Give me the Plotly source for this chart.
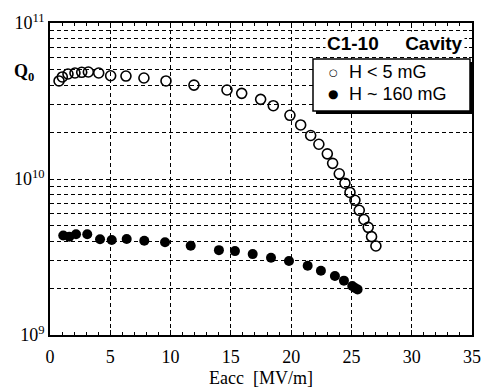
import plotly.graph_objects as go

# H < 5 mG (open circles)
e_low = [0.75, 1.02, 1.49, 2.07, 2.63, 3.18, 4.04, 5.03, 6.30, 7.79, 9.62, 11.94, 14.68,
         15.9, 17.47, 18.52, 19.9, 20.79, 21.62, 22.3, 23.0, 23.44, 23.99, 24.46, 24.88,
         25.29, 25.65, 26.04, 26.39, 26.67, 27.03]
q_low = [4.25e10, 4.51e10, 4.71e10, 4.78e10, 4.83e10, 4.85e10, 4.78e10, 4.59e10, 4.57e10,
         4.44e10, 4.25e10, 4.0e10, 3.72e10, 3.54e10, 3.24e10, 2.95e10, 2.56e10, 2.22e10,
         1.90e10, 1.67e10, 1.45e10, 1.26e10, 1.08e10, 9.4e9, 8.2e9, 7.3e9, 6.3e9, 5.5e9,
         4.9e9, 4.27e9, 3.72e9]

# H ~ 160 mG (filled circles)
e_high = [1.10, 1.60, 2.16, 3.09, 4.15, 5.12, 6.36, 7.82, 9.54, 11.67, 14.01, 15.34, 16.81,
          18.33, 19.82, 21.37, 22.47, 23.63, 24.38, 25.07, 25.3, 25.51]
q_high = [4.34e9, 4.27e9, 4.42e9, 4.42e9, 4.11e9, 4.06e9, 4.12e9, 4.02e9, 3.93e9, 3.73e9,
          3.5e9, 3.45e9, 3.30e9, 3.13e9, 2.98e9, 2.78e9, 2.58e9, 2.39e9, 2.23e9, 2.06e9,
          2.0e9, 1.96e9]

series_names = ["H < 5 mG", "H ~ 160 mG"]
legend_symbols = ["○", "●"]

x_ticks = [0, 5, 10, 15, 20, 25, 30, 35]
y_decades = [1e9, 1e10, 1e11]
y_labels = ["10<sup>9</sup>", "10<sup>10</sup>", "10<sup>11</sup>"]
y_minor = [k * d for d in (1e9, 1e10) for k in range(2, 10)]

fig = go.Figure()
fig.add_trace(go.Scatter(
    x=e_low, y=q_low, mode="markers", name=series_names[0],
    marker=dict(symbol="circle-open", size=10, color="black", line=dict(width=1.6, color="black")),
))
fig.add_trace(go.Scatter(
    x=e_high, y=q_high, mode="markers", name=series_names[1],
    marker=dict(symbol="circle", size=10, color="black"),
))

grid = dict(showgrid=True, gridcolor="black", gridwidth=1, griddash="4px,3px")

fig.update_xaxes(
    range=[0, 35], tickvals=x_ticks, ticks="inside", ticklen=5, tickcolor="black",
    showline=True, linecolor="black", linewidth=1.5, mirror="ticks", automargin=False,
    minor=dict(dtick=1, tick0=0, ticks="inside", ticklen=3, tickcolor="black", showgrid=False),
    zeroline=False, tickfont=dict(size=18, color="black"), ticklabelstandoff=5,
    title=dict(text="Eacc&nbsp;&nbsp;[MV/m]", font=dict(size=18, color="black"), standoff=5),
    **grid,
)
fig.update_yaxes(
    type="log", range=[9, 11], tickvals=y_decades, ticktext=y_labels,
    ticks="inside", ticklen=4, tickcolor="black", automargin=False,
    showline=True, linecolor="black", linewidth=1.5, mirror="ticks",
    minor=dict(tickvals=y_minor, ticks="inside", ticklen=3, tickcolor="black",
               showgrid=True, gridcolor="black", gridwidth=1, griddash="4px,3px"),
    zeroline=False, tickfont=dict(size=18, color="black"),
    **grid,
)

def px_x(p):
    return (p - 50) / 422

def px_y(p):
    return (335 - p) / 312

fig.add_annotation(
    text="<b>Q<sub>0</sub></b>", xref="paper", yref="paper", x=px_x(24), y=px_y(72),
    xanchor="center", yanchor="middle", showarrow=False,
    font=dict(family="Liberation Serif", size=18, color="black"),
)
fig.add_annotation(
    text="<b>C1-10&nbsp;&nbsp;&nbsp;&nbsp;&nbsp;Cavity</b>", xref="paper", yref="paper",
    x=px_x(465), y=px_y(44), xanchor="right", yanchor="middle", showarrow=False,
    bgcolor="white", borderpad=1,
    font=dict(family="Liberation Sans", size=19, color="black"),
)

# hand-drawn legend box with drop shadow
fig.add_shape(
    type="rect", xref="paper", yref="paper",
    x0=px_x(316), x1=px_x(473), y0=px_y(114), y1=px_y(62),
    fillcolor="black", line=dict(width=0), layer="above",
)
fig.add_shape(
    type="rect", xref="paper", yref="paper",
    x0=px_x(313), x1=px_x(470), y0=px_y(111), y1=px_y(59),
    fillcolor="white", line=dict(width=1.5, color="black"), layer="above",
)
for i, (sym, name) in enumerate(zip(legend_symbols, series_names)):
    yy = px_y(72 + 22 * i)
    fig.add_annotation(
        text=sym, xref="paper", yref="paper", x=px_x(333), y=yy,
        xanchor="center", yanchor="middle", showarrow=False,
        font=dict(family="DejaVu Sans", size=10 if i == 0 else 12, color="black"),
    )
    fig.add_annotation(
        text=name, xref="paper", yref="paper", x=px_x(347), y=yy,
        xanchor="left", yanchor="middle", showarrow=False,
        font=dict(family="Liberation Sans", size=18, color="black"),
    )

fig.update_layout(
    width=483, height=389,
    margin=dict(l=50, r=11, t=23, b=54),
    paper_bgcolor="white", plot_bgcolor="white",
    font=dict(family="Liberation Serif", color="black"),
    showlegend=False,
)

fig.write_html("out.html")
